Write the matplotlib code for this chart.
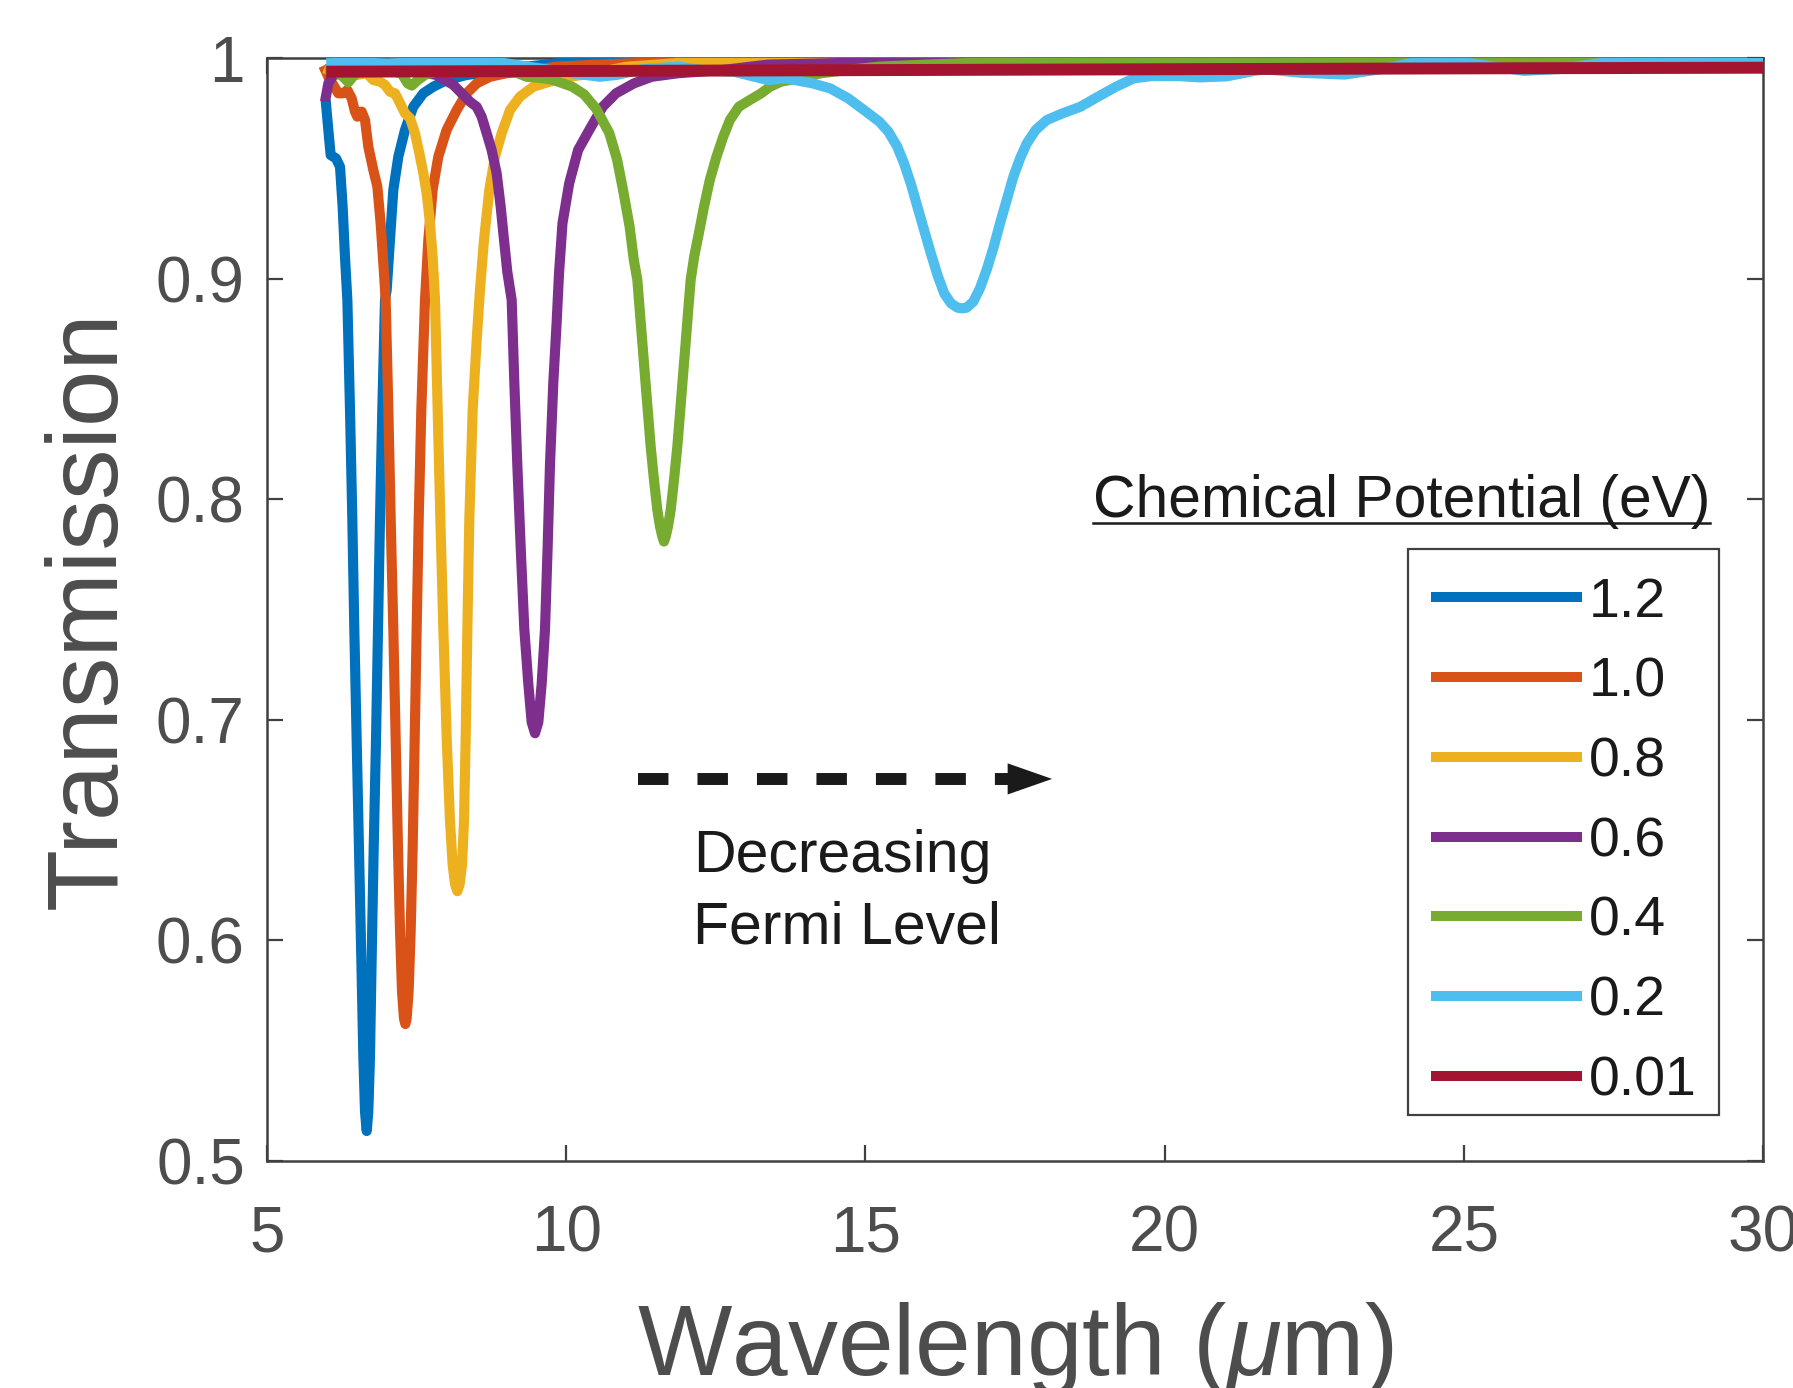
import matplotlib
matplotlib.use("Agg")
import matplotlib.pyplot as plt
from matplotlib.lines import Line2D
from matplotlib.patches import Rectangle

plt.rcParams['font.family'] = ['Liberation Sans', 'DejaVu Sans']
plt.rcParams['mathtext.fontset'] = 'custom'
plt.rcParams['mathtext.rm'] = 'Liberation Sans'
plt.rcParams['mathtext.it'] = 'Liberation Sans:italic'

# ---------------- data ----------------
labels = ["1.2", "1.0", "0.8", "0.6", "0.4", "0.2", "0.01"]
colors = ["#0072BD", "#D95319", "#EDB120", "#7E2F8E", "#77AC30", "#4DBEEE", "#A2142F"]

x_12 = [5.98, 6.025, 6.064, 6.153, 6.22, 6.264, 6.303, 6.343, 6.387, 6.426, 6.459, 6.498, 6.537,
        6.576, 6.610, 6.638, 6.666, 6.693, 6.721, 6.749, 6.783, 6.822, 6.855, 6.888, 6.927, 6.972,
        7.000, 7.055, 7.111, 7.195, 7.306, 7.445, 7.612, 7.780, 8.002, 8.337, 8.782, 9.3, 10, 12,
        15, 20, 25, 30]
y_12 = [0.981, 0.9674, 0.956, 0.9545, 0.9507, 0.9326, 0.9099, 0.8903, 0.8406, 0.7908, 0.7411, 0.6914, 0.6417,
        0.5919, 0.5472, 0.5223, 0.5136, 0.5223, 0.5472, 0.5919, 0.6417, 0.6914, 0.7411, 0.7908, 0.8406, 0.8903,
        0.8948, 0.9175, 0.9402, 0.9553, 0.9674, 0.9779, 0.984, 0.987, 0.990, 0.9923, 0.9938, 0.996, 0.998, 0.999,
        0.999, 1.0, 1.0, 1.0]

x_10 = [5.941, 6.025, 6.108, 6.192, 6.276, 6.342, 6.415, 6.470, 6.510, 6.582, 6.638, 6.693, 6.777,
        6.844, 6.899, 6.955, 6.983, 7.028, 7.067, 7.111, 7.150, 7.189, 7.223, 7.256, 7.289, 7.312,
        7.334, 7.367, 7.401, 7.434, 7.468, 7.501, 7.535, 7.579, 7.640, 7.696, 7.768, 7.863, 8.002,
        8.170, 8.337, 8.504, 8.727, 9.005, 9.339, 9.8, 10.5, 11.5, 13, 15, 20, 25, 30]
y_10 = [0.9965, 0.9915, 0.9878, 0.984, 0.984, 0.9855, 0.9817, 0.9757, 0.9734, 0.9757, 0.9719, 0.9598, 0.9492,
        0.9417, 0.9251, 0.9024, 0.8903, 0.8406, 0.7908, 0.7411, 0.6914, 0.6417, 0.6044, 0.5770, 0.5646, 0.5621,
        0.5646, 0.5770, 0.6044, 0.6417, 0.6914, 0.7411, 0.7908, 0.8406, 0.8903, 0.9175, 0.9402, 0.9553, 0.9674,
        0.9764, 0.984, 0.9885, 0.9915, 0.9931, 0.9938, 0.996, 0.997, 0.998, 0.999, 1.0, 1.0, 1.0, 1.0]

x_08 = [5.953, 6.108, 6.331, 6.498, 6.666, 6.777, 6.889, 6.972, 7.055, 7.139, 7.223, 7.306, 7.390,
        7.473, 7.546, 7.613, 7.668, 7.724, 7.768, 7.808, 7.852, 7.897, 7.947, 8.003, 8.058, 8.103,
        8.142, 8.181, 8.220, 8.259, 8.292, 8.320, 8.348, 8.381, 8.437, 8.504, 8.559, 8.626, 8.715,
        8.810, 8.922, 9.061, 9.228, 9.451, 9.729, 10.063, 10.453, 11, 12, 14, 20, 25, 30]
y_08 = [0.9953, 0.9938, 0.9931, 0.9923, 0.9931, 0.990, 0.9893, 0.9878, 0.9847, 0.984, 0.9795, 0.9749, 0.9727,
        0.9659, 0.9568, 0.9477, 0.9387, 0.9251, 0.9099, 0.8903, 0.8406, 0.7908, 0.7411, 0.6914, 0.6541, 0.6342,
        0.6255, 0.6223, 0.6255, 0.6342, 0.6541, 0.6914, 0.7411, 0.7908, 0.8406, 0.8722, 0.8948, 0.9175, 0.9402,
        0.9553, 0.9659, 0.9764, 0.9825, 0.987, 0.9893, 0.9915, 0.9931, 0.996, 0.998, 0.999, 1.0, 1.0, 1.0]

x_06 = [5.969, 6.025, 6.108, 6.5, 7.0, 7.4, 7.668, 7.835, 7.975, 8.114, 8.253, 8.392, 8.504,
        8.587, 8.671, 8.754, 8.838, 8.905, 8.961, 9.016, 9.089, 9.133, 9.183, 9.239, 9.300, 9.367,
        9.423, 9.479, 9.534, 9.590, 9.646, 9.690, 9.729, 9.785, 9.840, 9.880, 9.938, 10.050, 10.199,
        10.386, 10.610, 10.833, 11.132, 11.430, 11.878, 12.624, 13.37, 15, 17, 20, 25, 30]
y_06 = [0.9802, 0.9885, 0.9923, 0.994, 0.995, 0.995, 0.9931, 0.9923, 0.990, 0.9878, 0.984, 0.9802, 0.9779,
        0.9734, 0.9659, 0.9583, 0.9477, 0.9326, 0.9175, 0.9030, 0.8903, 0.853, 0.8157, 0.7784, 0.7411, 0.7163,
        0.6989, 0.6939, 0.6989, 0.7163, 0.7411, 0.7784, 0.8157, 0.853, 0.8800, 0.9024, 0.9251, 0.9432, 0.9583,
        0.9674, 0.9779, 0.984, 0.9885, 0.9915, 0.9931, 0.9946, 0.997, 0.998, 0.999, 1.0, 1.0, 1.0]

x_04 = [5.97, 6.1, 6.25, 6.36, 6.45, 6.55, 7.0, 7.25, 7.35, 7.42, 7.52, 7.65, 8.0, 8.6, 9.12,
        9.34, 9.62, 9.79, 10.1, 10.3, 10.5, 10.72, 10.85, 10.95, 11.06, 11.13, 11.189, 11.233, 11.278,
        11.322, 11.367, 11.412, 11.467, 11.523, 11.568, 11.607, 11.634, 11.662, 11.701, 11.746, 11.801,
        11.857, 11.902, 11.946, 11.991, 12.035, 12.080, 12.139, 12.213, 12.303, 12.400, 12.512, 12.624,
        12.736, 12.885, 13.072, 13.258, 13.407, 13.594, 13.892, 14.265, 14.713, 15.235, 16, 17, 20, 25, 30]
y_04 = [0.995, 0.995, 0.992, 0.989, 0.992, 0.9945, 0.9945, 0.993, 0.9885, 0.9875, 0.990, 0.9925, 0.995, 0.995,
        0.9938, 0.9915, 0.9908, 0.990, 0.987, 0.9835, 0.977, 0.966, 0.954, 0.9402, 0.9235, 0.9084, 0.8994, 0.8843,
        0.8691, 0.8540, 0.8389, 0.8238, 0.8087, 0.7951, 0.7876, 0.7830, 0.7808, 0.7830, 0.7876, 0.7951, 0.8087,
        0.8238, 0.8389, 0.8540, 0.8691, 0.8843, 0.8994, 0.9100, 0.9200, 0.9326, 0.9447, 0.9553, 0.9643, 0.9719,
        0.9779, 0.9810, 0.9840, 0.9870, 0.9893, 0.9908, 0.9931, 0.9946, 0.9961, 0.997, 0.998, 0.999, 0.9995, 0.999]

x_02 = [5.99, 6.5, 7.0, 7.5, 8.0, 8.89, 9.56, 10.12, 10.56, 10.84, 11.3, 11.88, 12.25, 12.8, 13.37,
        13.67, 14.116, 14.414, 14.713, 15.011, 15.235, 15.384, 15.533, 15.645, 15.757, 15.869, 15.981,
        16.093, 16.205, 16.317, 16.429, 16.541, 16.615, 16.690, 16.802, 16.914, 17.025, 17.137, 17.249,
        17.361, 17.473, 17.585, 17.697, 17.846, 18.033, 18.294, 18.592, 18.890, 19.189, 19.487, 19.786,
        20.234, 20.592, 21.04, 21.66, 22.28, 23.01, 23.63, 24.25, 25.0, 26.0, 26.6, 27.22, 28.14, 29.07, 30.0]
y_02 = [0.9976, 0.998, 0.9975, 0.998, 0.998, 0.998, 0.9953, 0.993, 0.9915, 0.9923, 0.995, 0.9961, 0.9946,
        0.9938, 0.990, 0.9908, 0.9885, 0.9862, 0.9817, 0.9757, 0.9711, 0.9666, 0.9598, 0.9523, 0.9432, 0.9326,
        0.9220, 0.9115, 0.9016, 0.8933, 0.8888, 0.8868, 0.8865, 0.8868, 0.8895, 0.8956, 0.9039, 0.9137, 0.9250,
        0.9356, 0.9462, 0.9545, 0.9613, 0.9674, 0.9719, 0.9749, 0.9779, 0.9825, 0.9870, 0.9908, 0.9918,
        0.9918, 0.9912, 0.9917, 0.995, 0.9933, 0.9925, 0.995, 0.9984, 0.998, 0.9942, 0.995, 0.9975, 1.0,
        0.9992, 0.9984]

x_001 = [5.99, 10, 15, 20, 25, 30]
y_001 = [0.9938, 0.9941, 0.9945, 0.9949, 0.9953, 0.9956]

series_x = [x_12, x_10, x_08, x_06, x_04, x_02, x_001]
series_y = [y_12, y_10, y_08, y_06, y_04, y_02, y_001]

xticks = [5, 10, 15, 20, 25, 30]
yticks = [0.5, 0.6, 0.7, 0.8, 0.9, 1.0]
yticklabels = ["0.5", "0.6", "0.7", "0.8", "0.9", "1"]

arrow_x = [11.2, 17.45]
arrow_tip = 18.12
arrow_y = 0.6732

# ---------------- figure ----------------
W, H = 1793, 1388
fig = plt.figure(figsize=(W / 100, H / 100), dpi=100)
L, R, T, B = 267, 1763, 58, 1161
ax = fig.add_axes([L / W, 1 - B / H, (R - L) / W, (B - T) / H])

axcol = '#404040'
for xs, ys, c, lab in zip(series_x, series_y, colors, labels):
    lw = 8.6 if lab == "0.01" else 7.3
    ax.plot(xs, ys, color=c, lw=lw, solid_joinstyle='round', solid_capstyle='butt',
            zorder=3, label=lab)

ax.set_xlim(5, 30)
ax.set_ylim(0.5, 1.0)
ax.set_xticks(xticks)
ax.set_xticklabels([str(v) for v in xticks])
ax.set_yticks(yticks)
ax.set_yticklabels(yticklabels)

for s in ax.spines.values():
    s.set_color(axcol)
    s.set_linewidth(1.8)
ax.tick_params(direction='in', length=11.5, width=1.6, top=True, right=True,
               color=axcol, labelcolor='#4d4d4d', labelsize=46)
ax.tick_params(axis='x', pad=31)
ax.tick_params(axis='y', pad=16)

ax.set_ylabel("Transmission", fontsize=73, color='#4d4d4d', labelpad=14)
ax.set_xlabel(r"Wavelength ($\mu$m)", fontsize=72, color='#4d4d4d', labelpad=26)

# legend (frame drawn separately as a plain box)
leg_handles = [Line2D([0], [0], color=c, lw=7.2) for c in colors]
leg = ax.legend(leg_handles, labels, loc='upper left',
                bbox_to_anchor=(1408 / W, 1 - 549 / H), bbox_transform=fig.transFigure,
                borderaxespad=0, fontsize=40, handlelength=2.55, handletextpad=0.2,
                labelspacing=0.5, borderpad=0.5, frameon=False)
for t in leg.get_texts():
    t.set_color('#1a1a1a')
fig.add_artist(Rectangle((1408 / W, 1 - 1115 / H), (1719 - 1408) / W, (1115 - 549) / H,
                         transform=fig.transFigure, fill=False, edgecolor=axcol, lw=1.6))

# legend title with underline
title = fig.text(1093 / W, 1 - 517 / H, "Chemical Potential (eV)", fontsize=42.3,
                 color='#1a1a1a', ha='left', va='baseline')

# annotation arrow
ax.plot(arrow_x, [arrow_y, arrow_y], color='#1a1a1a', lw=8.6,
        linestyle=(0, (2.55, 2.43)), dash_capstyle='butt', zorder=4)
ax.annotate("", xy=(arrow_tip, arrow_y), xytext=(arrow_x[1] - 0.2, arrow_y),
            arrowprops=dict(arrowstyle='-|>,head_length=1.6,head_width=0.56',
                            mutation_scale=20, color='#1a1a1a', lw=0,
                            shrinkA=0, shrinkB=0), zorder=5)
fig.text(693 / W, 1 - 872 / H, "Decreasing", fontsize=42.5, color='#1a1a1a',
         ha='left', va='baseline')
fig.text(693 / W, 1 - 944 / H, "Fermi Level", fontsize=42.5, color='#1a1a1a',
         ha='left', va='baseline')

fig.canvas.draw()
r = fig.canvas.get_renderer()
bb = title.get_window_extent(r)
uy = 1 - 523 / H
fig.add_artist(Line2D([bb.x0 / W, bb.x1 / W], [uy, uy], transform=fig.transFigure,
                      color='#1a1a1a', lw=1.8))

fig.savefig("out.png", dpi=100)
